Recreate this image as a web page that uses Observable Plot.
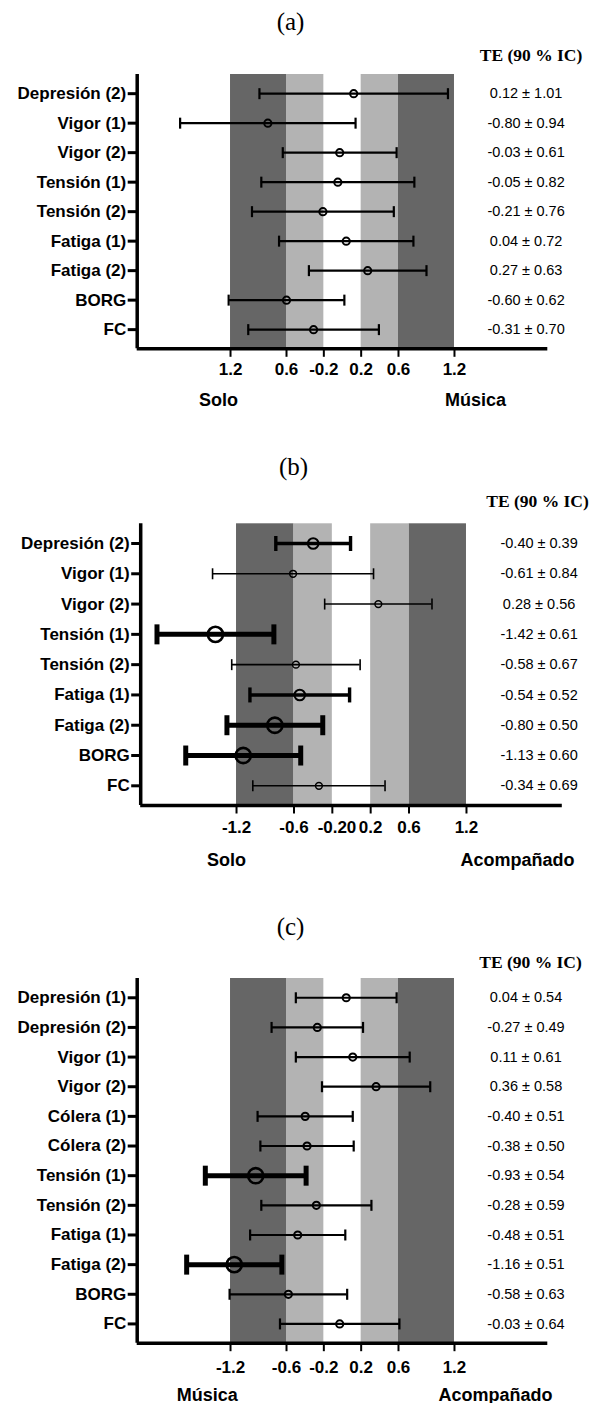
<!DOCTYPE html>
<html><head><meta charset="utf-8">
<script src="https://cdn.jsdelivr.net/npm/d3@7"></script>
<script src="https://cdn.jsdelivr.net/npm/@observablehq/plot@0.6"></script>
<style>
html,body{margin:0;padding:0;background:#fff;}
#chart{width:605px;}
#chart svg{display:block;}
</style></head><body><div id="chart"></div>
<script>
// ---------- DATA ----------
// Panel (a): Solo vs Música
const titleA = "(a)";
const labelsA = ["Depresión (2)","Vigor (1)","Vigor (2)","Tensión (1)","Tensión (2)","Fatiga (1)","Fatiga (2)","BORG","FC"];
const teA = [0.12,-0.80,-0.03,-0.05,-0.21,0.04,0.27,-0.60,-0.31];
const ciA = [1.01,0.94,0.61,0.82,0.76,0.72,0.63,0.62,0.70];
const classA = ["posible","posible","posible","posible","posible","posible","posible","posible","posible"];
const tickValsA = [-1.2,-0.6,-0.2,0.2,0.6,1.2];
const tickLabelsA = ["1.2","0.6","-0.2","0.2","0.6","1.2"];
const groupsA = ["Solo","Música"];

// Panel (b): Solo vs Acompañado
const titleB = "(b)";
const labelsB = ["Depresión (2)","Vigor (1)","Vigor (2)","Tensión (1)","Tensión (2)","Fatiga (1)","Fatiga (2)","BORG","FC"];
const teB = [-0.40,-0.61,0.28,-1.42,-0.58,-0.54,-0.80,-1.13,-0.34];
const ciB = [0.39,0.84,0.56,0.61,0.67,0.52,0.50,0.60,0.69];
const classB = ["probable","poco claro","poco claro","muy probable","poco claro","probable","muy probable","muy probable","poco claro"];
const tickValsB = [-1.2,-0.6,-0.2,0.2,0.6,1.2];
const labelValsB = [-1.2,-0.6,-0.2,0,0.2,0.6,1.2];
const tickLabelsB = ["-1.2","-0.6","-0.2","0","0.2","0.6","1.2"];
const groupsB = ["Solo","Acompañado"];

// Panel (c): Música vs Acompañado
const titleC = "(c)";
const labelsC = ["Depresión (1)","Depresión (2)","Vigor (1)","Vigor (2)","Cólera (1)","Cólera (2)","Tensión (1)","Tensión (2)","Fatiga (1)","Fatiga (2)","BORG","FC"];
const teC = [0.04,-0.27,0.11,0.36,-0.40,-0.38,-0.93,-0.28,-0.48,-1.16,-0.58,-0.03];
const ciC = [0.54,0.49,0.61,0.58,0.51,0.50,0.54,0.59,0.51,0.51,0.63,0.64];
const classC = ["posible","posible","posible","posible","posible","posible","muy probable","posible","posible","muy probable","posible","posible"];
const tickValsC = [-1.2,-0.6,-0.2,0.2,0.6,1.2];
const tickLabelsC = ["-1.2","-0.6","-0.2","0.2","0.6","1.2"];
const groupsC = ["Música","Acompañado"];

// Magnitude bands (effect size thresholds)
const bandLo = [-1.2,-0.6,0.2,0.6];
const bandHi = [-0.6,-0.2,0.6,1.2];
const bandTone = ["grande","moderado","moderado","grande"];

const headerText = "TE (90 % IC)";

// ---------- STYLE / LAYOUT ----------
const SANS = "'Liberation Sans', Arial, Helvetica, sans-serif";
const SERIF = "'Liberation Serif', 'Times New Roman', serif";
const toneColor = {grande: "#666666", moderado: "#b3b3b3"};
const classStyle = {
  "poco claro":   {sw: 1.6, r: 3.4, csw: 1.5, cap: 5.5},
  "posible":      {sw: 2.2, r: 3.6, csw: 2.0, cap: 5.5},
  "probable":     {sw: 3.4, r: 5.3, csw: 2.0, cap: 7.5},
  "muy probable": {sw: 5.0, r: 7.6, csw: 2.6, cap: 10}
};
const capSymbol = {draw(ctx, size) { const h = Math.sqrt(size / Math.PI); ctx.moveTo(0, -h); ctx.lineTo(0, h); }};

const W = 605;
const layouts = [
  {height: 445, mt: 74, mb: 96.7, ml: 136.7, mr: 57.7, titleX: 290, titleY: 21, teX: 530.5, teY: 55, valX: 525.6, tickY: 369.5, groupY: 400, groupX: [218, 475]},
  {height: 450, mt: 78.3, mb: 90, ml: 140.2, mr: 43.2, titleX: 293, titleY: 21, teX: 537, teY: 56, valX: 538.6, tickY: 381.7, groupY: 415, groupX: [226, 517]},
  {height: 508, mt: 83, mb: 60.3, ml: 136.7, mr: 57.7, titleX: 290, titleY: 31.7, teX: 530, teY: 66.5, valX: 525.5, tickY: 471.7, groupY: 500, groupX: [206.7, 495]}
];

const panels = [
  {title: titleA, labels: labelsA, te: teA, ci: ciA, cls: classA, tickVals: tickValsA, labelVals: tickValsA, tickLabels: tickLabelsA, groups: groupsA},
  {title: titleB, labels: labelsB, te: teB, ci: ciB, cls: classB, tickVals: tickValsB, labelVals: labelValsB, tickLabels: tickLabelsB, groups: groupsB},
  {title: titleC, labels: labelsC, te: teC, ci: ciC, cls: classC, tickVals: tickValsC, labelVals: tickValsC, tickLabels: tickLabelsC, groups: groupsC}
];

const bands = bandLo.map((lo, k) => ({lo, hi: bandHi[k], tone: bandTone[k]}));
const pad = 0.65;

function makePanel(p, L) {
  const n = p.labels.length;
  const rows = p.labels.map((label, i) => ({i, label, te: p.te[i], ci: p.ci[i], cls: p.cls[i],
    txt: `${p.te[i].toFixed(2)} ± ${p.ci[i].toFixed(2)}`}));
  const plotBottom = L.height - L.mb;
  const frameRight = W - L.mr;
  const marks = [];
  // bands
  for (const tone of ["grande", "moderado"]) {
    marks.push(Plot.rect(bands.filter(b => b.tone === tone), {x1: "lo", x2: "hi", fill: toneColor[tone]}));
  }
  // error bars per class
  for (const c of Object.keys(classStyle)) {
    const s = classStyle[c];
    const sub = rows.filter(r => r.cls === c);
    if (!sub.length) continue;
    marks.push(Plot.ruleY(sub, {y: "i", x1: d => d.te - d.ci, x2: d => d.te + d.ci, stroke: "black", strokeWidth: s.sw}));
    marks.push(Plot.dot(sub, {x: d => d.te - d.ci, y: "i", symbol: capSymbol, r: s.cap, fill: "none", stroke: "black", strokeWidth: s.sw}));
    marks.push(Plot.dot(sub, {x: d => d.te + d.ci, y: "i", symbol: capSymbol, r: s.cap, fill: "none", stroke: "black", strokeWidth: s.sw}));
    marks.push(Plot.dot(sub, {x: "te", y: "i", r: s.r, fill: "none", stroke: "black", strokeWidth: s.csw}));
  }
  // axis lines
  marks.push(Plot.ruleX([-2.2], {stroke: "black", strokeWidth: 3.5}));
  marks.push(Plot.ruleY([n - 1 + pad], {stroke: "black", strokeWidth: 3.5}));
  // y axis ticks + labels
  marks.push(Plot.axisY({ticks: rows.map(r => r.i), tickFormat: i => p.labels[i], tickSize: 9, tickPadding: 2,
    strokeWidth: 3, fontSize: 17, fontWeight: "bold", fontFamily: SANS, fill: "black", label: null}));
  // x axis tick marks
  marks.push(Plot.axisX({ticks: p.tickVals, tickFormat: () => "", tickSize: 8.5, strokeWidth: 2, label: null}));
  // x tick labels
  marks.push(Plot.text(p.labelVals, {x: d => d, text: (d, i) => p.tickLabels[i], frameAnchor: "bottom",
    dy: L.tickY - plotBottom, lineAnchor: "middle", fontSize: 17, fontWeight: "bold", fontFamily: SANS, fill: "black"}));
  // group labels
  p.groups.forEach((g, k) => {
    marks.push(Plot.text([g], {frameAnchor: "top-left", dx: L.groupX[k] - L.ml, dy: L.groupY - L.mt,
      text: d => d, textAnchor: "middle", lineAnchor: "middle", fontSize: 18, fontWeight: "bold", fontFamily: SANS, fill: "black"}));
  });
  // values column
  marks.push(Plot.text(rows, {y: "i", text: "txt", frameAnchor: "right", dx: L.valX - frameRight, textAnchor: "middle",
    lineAnchor: "middle", fontSize: 14.5, fontFamily: SANS, fill: "black"}));
  // header
  marks.push(Plot.text([headerText], {frameAnchor: "top-left", dx: L.teX - L.ml, dy: L.teY - L.mt, text: d => d,
    textAnchor: "middle", lineAnchor: "middle", fontSize: 17.5, fontWeight: "bold", fontFamily: SERIF, fill: "black"}));
  // title
  marks.push(Plot.text([p.title], {frameAnchor: "top-left", dx: L.titleX - L.ml, dy: L.titleY - L.mt, text: d => d,
    textAnchor: "middle", lineAnchor: "middle", fontSize: 25, fontFamily: SERIF, fill: "black"}));

  return Plot.plot({
    width: W, height: L.height,
    marginTop: L.mt, marginBottom: L.mb, marginLeft: L.ml, marginRight: L.mr,
    style: {background: "white", color: "black", fontFamily: SANS, overflow: "visible"},
    x: {domain: [-2.2, 2.2]},
    y: {domain: [-pad, n - 1 + pad], reverse: true},
    marks
  });
}

const root = document.getElementById("chart");
panels.forEach((p, k) => root.appendChild(makePanel(p, layouts[k])));
</script>
</body></html>
